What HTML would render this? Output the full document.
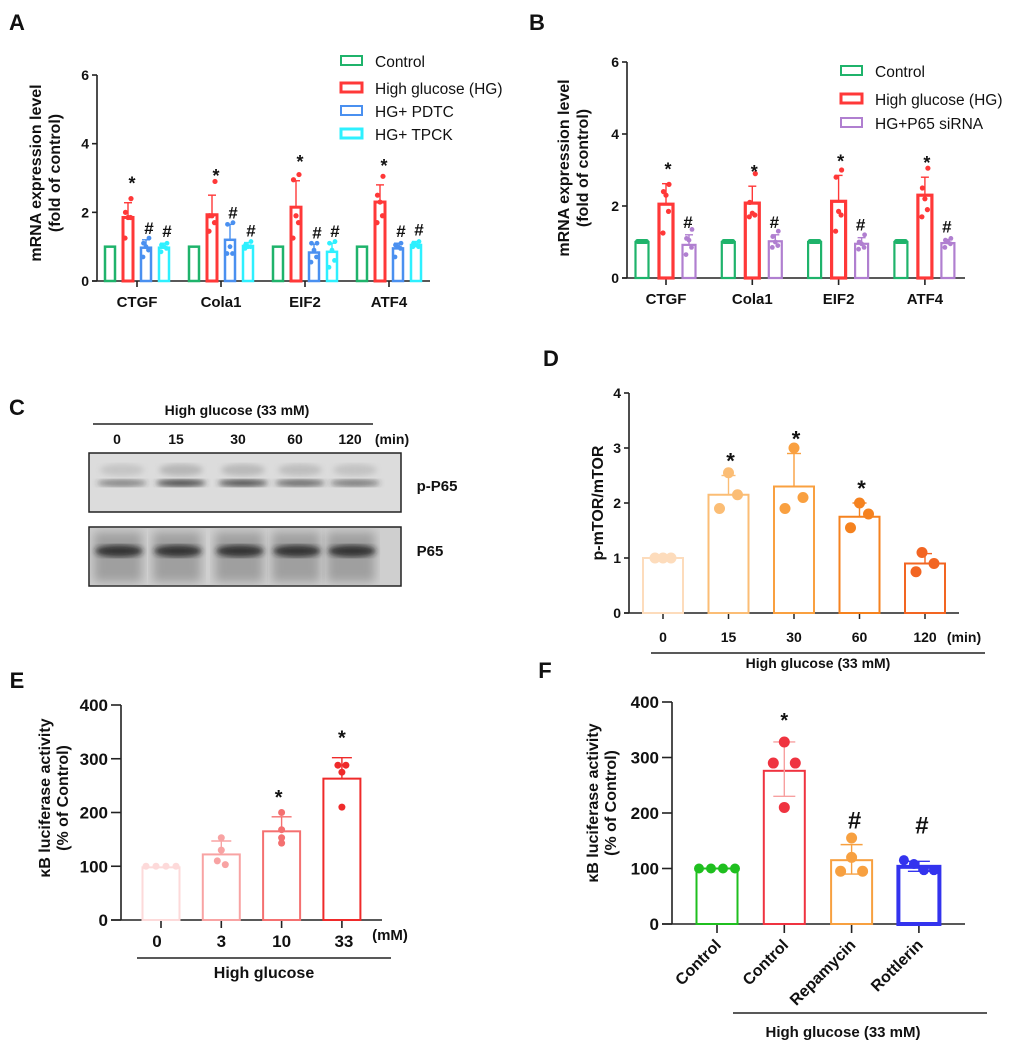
<!DOCTYPE html>
<html><head><meta charset="utf-8"><style>
body{margin:0;background:#fff;}
svg{display:block;font-family:"Liberation Sans",Arial,sans-serif;}
</style></head><body>
<svg id="fig" width="1020" height="1046" viewBox="0 0 1020 1046">
<defs>
<filter id="blur3"><feGaussianBlur stdDeviation="3"/></filter>
<filter id="blur5"><feGaussianBlur stdDeviation="5"/></filter>
</defs>
<g id="root"></g>
</svg>
<script>
// ---------- Panel A data ----------
const aCats=["CTGF","Cola1","EIF2","ATF4"];
const aControl=[1,1,1,1];
const aHG=[1.85,1.93,2.15,2.3];
const aHGErr=[2.28,2.5,2.92,2.8];
const aHGPts=[[2.4,2.0,1.85,1.85,1.25],[2.9,1.9,1.9,1.7,1.45],[3.1,2.95,1.9,1.7,1.25],[3.05,2.5,2.3,1.9,1.7]];
const aPDTC=[0.97,1.2,0.83,0.95];
const aPDTCErr=[1.2,1.65,1.07,1.1];
const aPDTCPts=[[1.25,1.1,1.0,0.9,0.7],[1.7,1.65,1.0,0.8,0.8],[1.1,1.1,0.9,0.7,0.55],[1.1,1.05,1.0,0.95,0.7]];
const aTPCK=[0.97,1.02,0.85,1.05];
const aTPCKErr=[1.1,1.12,1.1,1.15];
const aTPCKPts=[[1.1,1.05,1.0,0.95,0.85],[1.15,1.05,1.0,1.0,0.95],[1.15,1.1,0.9,0.6,0.4],[1.15,1.1,1.05,1.0,1.0]];
const abTicks=[0,2,4,6];
// ---------- Panel B data ----------
const bCats=["CTGF","Cola1","EIF2","ATF4"];
const bControl=[1,1,1,1];
const bHG=[2.05,2.08,2.13,2.3];
const bHGErr=[2.62,2.55,2.85,2.8];
const bHGPts=[[2.6,2.4,2.3,1.85,1.25],[2.9,2.1,1.8,1.75,1.7],[3.0,2.8,1.85,1.75,1.3],[3.05,2.5,2.2,1.9,1.7]];
const bSi=[0.92,1.02,0.95,0.97];
const bSiErr=[1.2,1.2,1.12,1.07];
const bSiPts=[[1.35,1.1,1.05,0.85,0.65],[1.3,1.15,1.0,0.9,0.85],[1.2,1.0,0.95,0.85,0.8],[1.1,1.05,1.0,0.95,0.85]];
// ---------- Panel D data ----------
const dCats=["0","15","30","60","120"];
const dVals=[1.0,2.15,2.3,1.75,0.9];
const dErr=[1.0,2.5,2.9,2.0,1.08];
const dPts=[[1,1,1],[2.55,2.15,1.9],[3.0,2.1,1.9],[2.0,1.8,1.55],[1.1,0.9,0.75]];
const dTicks=[0,1,2,3,4];
// ---------- Panel E data ----------
const eCats=["0","3","10","33"];
const eVals=[98,122,165,263];
const eErr=[98,147,192,302];
const ePts=[[100,100,100,100],[153,130,110,103],[200,168,153,143],[288,288,275,210]];
const efTicks=[0,100,200,300,400];
// ---------- Panel F data ----------
const fCats=["Control","Control","Repamycin","Rottlerin"];
const fVals=[100,276,115,103];
const fErrHi=[100,328,143,113];
const fErrLo=[100,230,90,95];
const fPts=[[100,100,100,100],[328,290,290,210],[155,120,95,95],[115,108,97,97]];

const NS="http://www.w3.org/2000/svg";
const root=document.getElementById('root');
function el(tag,attrs,parent,text){const e=document.createElementNS(NS,tag);for(const k in attrs)e.setAttribute(k,attrs[k]);if(text!==undefined)e.textContent=text;(parent||root).appendChild(e);return e;}
function txt(x,y,s,size,opts,parent){opts=opts||{};const t=el('text',Object.assign({x:x,y:y,'font-size':size,'text-anchor':opts.anchor||'middle','font-weight':opts.w||'bold',fill:'#111'},opts.extra||{}),parent,s);return t;}

function yAxis(g,x,y0,yScale,ticks,x1,fs,tickLen){
  el('line',{x1:x,y1:yScale(ticks[ticks.length-1]),x2:x,y2:y0,stroke:'#222','stroke-width':1.6},g);
  el('line',{x1:x-tickLen,y1:y0,x2:x1,y2:y0,stroke:'#222','stroke-width':1.6},g);
  ticks.forEach(t=>{const y=yScale(t);el('line',{x1:x-tickLen,y1:y,x2:x,y2:y,stroke:'#222','stroke-width':1.6},g);
    const l=txt(x-tickLen-3,y+fs*0.36,String(t),fs,{anchor:'end'},g);
    
    });
}
function bar(g,cx,w,y0,yv,color,sw,name){
  const r=el('rect',{x:cx-w/2,y:yv,width:w,height:y0-yv,fill:'#fff',stroke:color,'stroke-width':sw},g);
  
  
}
function errUp(g,cx,yv,ye,cw,color){
  el('line',{x1:cx,y1:yv,x2:cx,y2:ye,stroke:color,'stroke-width':1.4},g);
  el('line',{x1:cx-cw,y1:ye,x2:cx+cw,y2:ye,stroke:color,'stroke-width':1.4},g);
}
function dots(g,cx,pts,yScale,r,color,spread){
  pts.forEach((p,i)=>{const off=(i-(pts.length-1)/2)*spread*((i%2)?1:-0.6);
    const c=el('circle',{cx:cx+off,cy:yScale(p),r:r,fill:color},g);
    
    });
}

// ================= Panel A =================
(function(){
  const g=el('g',{});
  txt(17,30,'A',22,{},g);
  const x0=97,y0=281,yS=v=>y0-v*34.33;
  yAxis(g,x0,y0,yS,abTicks,430,14,5);
  const cols=['#1fb36b','#ff3838','#4a90f0','#2ef0ff'];
  aCats.forEach((c,i)=>{
    const gc=137+i*84;
    el('line',{x1:gc,y1:y0,x2:gc,y2:y0+6,stroke:'#222','stroke-width':1.6},g);
    const t=txt(gc,y0+26,c,15,{},g);
    const xs=[gc-27,gc-9,gc+9,gc+27];
    bar(g,xs[0],10,y0,yS(aControl[i]),cols[0],2.5,'bar-control');
    bar(g,xs[1],10,y0,yS(aHG[i]),cols[1],3,'bar-hg');
    errUp(g,xs[1],yS(aHG[i]),yS(aHGErr[i]),4,cols[1]);
    dots(g,xs[1],aHGPts[i],yS,2.6,cols[1],2.5);
    txt(xs[1]+4,yS(aHGErr[i])-13,'*',18,{},g);
    bar(g,xs[2],10,y0,yS(aPDTC[i]),cols[2],2.5,'bar-pdtc');
    errUp(g,xs[2],yS(aPDTC[i]),yS(aPDTCErr[i]),4,cols[2]);
    dots(g,xs[2],aPDTCPts[i],yS,2.4,cols[2],2.5);
    txt(xs[2]+3,yS(aPDTCErr[i])-6,'#',17,{},g);
    bar(g,xs[3],10,y0,yS(aTPCK[i]),cols[3],2.5,'bar-tpck');
    errUp(g,xs[3],yS(aTPCK[i]),yS(aTPCKErr[i]),4,cols[3]);
    dots(g,xs[3],aTPCKPts[i],yS,2.4,cols[3],2.5);
    txt(xs[3]+3,yS(aTPCKErr[i])-6,'#',17,{},g);
  });
  const yt=el('text',{transform:'translate(41,173) rotate(-90)','font-size':16,'font-weight':'bold','text-anchor':'middle',fill:'#111'},g,'mRNA expression level');
  
  el('text',{transform:'translate(60,173) rotate(-90)','font-size':16,'font-weight':'bold','text-anchor':'middle',fill:'#111'},g,'(fold of control)');
  const labs=['Control','High glucose (HG)','HG+ PDTC','HG+ TPCK'];const ly=[61,88,111,134];
  labs.forEach((l,i)=>{const lg=el('g',{},g);
    el('rect',{x:341,y:ly[i]-5,width:21,height:9,fill:'#fff',stroke:cols[i],'stroke-width':i==1||i==3?3:2},lg);
    txt(375,ly[i]+6,l,15.5,{anchor:'start',w:'normal'},lg);});
})();

// ================= Panel B =================
(function(){
  const g=el('g',{});
  txt(537,30,'B',22,{},g);
  const x0=627,y0=278,yS=v=>y0-v*36;
  yAxis(g,x0,y0,yS,abTicks,965,14,5);
  const cols=['#1fb36b','#ff3838','#b07fd0'];
  bCats.forEach((c,i)=>{
    const gc=666+i*86.3;
    el('line',{x1:gc,y1:y0,x2:gc,y2:y0+7,stroke:'#222','stroke-width':1.6},g);
    const t=txt(gc,y0+26,c,15,{},g);
    const xs=[gc-24,gc,gc+23];
    bar(g,xs[0],13,y0,yS(bControl[i]),cols[0],2.2,'bar-control');
    el('rect',{x:xs[0]-7,y:yS(bControl[i])-3,width:14,height:5,rx:2.5,fill:cols[0]},g);
    bar(g,xs[1],14,y0,yS(bHG[i]),cols[1],3.2,'bar-hg');
    errUp(g,xs[1],yS(bHG[i]),yS(bHGErr[i]),4,cols[1]);
    dots(g,xs[1],bHGPts[i],yS,2.6,cols[1],2.5);
    txt(xs[1]+2,yS(bHGErr[i])-8,'*',18,{},g);
    bar(g,xs[2],13,y0,yS(bSi[i]),cols[2],2.2,'bar-p65-sirna');
    errUp(g,xs[2],yS(bSi[i]),yS(bSiErr[i]),4,cols[2]);
    dots(g,xs[2],bSiPts[i],yS,2.4,cols[2],2.5);
    txt(xs[2]-1,yS(bSiErr[i])-7,'#',17,{},g);
  });
  el('text',{transform:'translate(569,168) rotate(-90)','font-size':16,'font-weight':'bold','text-anchor':'middle',fill:'#111'},g,'mRNA expression level');
  el('text',{transform:'translate(588,168) rotate(-90)','font-size':16,'font-weight':'bold','text-anchor':'middle',fill:'#111'},g,'(fold of control)');
  const labs=['Control','High glucose (HG)','HG+P65 siRNA'];const ly=[71,99,123];
  labs.forEach((l,i)=>{const lg=el('g',{},g);
    el('rect',{x:841,y:ly[i]-5,width:21,height:9,fill:'#fff',stroke:cols[i],'stroke-width':i==1?3:2},lg);
    txt(875,ly[i]+6,l,15.5,{anchor:'start',w:'normal'},lg);});
})();

// ================= Panel C (western blot) =================
(function(){
  const g=el('g',{});
  txt(17,415,'C',22,{},g);
  txt(237,415,'High glucose (33 mM)',14,{},g);
  el('line',{x1:93,y1:424,x2:373,y2:424,stroke:'#222','stroke-width':1.5},g);
  const lanes=['0','15','30','60','120'];const lx=[117,176,238,295,350];
  lanes.forEach((l,i)=>txt(lx[i],444,l,14,{},g));
  txt(392,444,'(min)',14,{},g);
  el('rect',{x:89,y:453,width:312,height:59,fill:'#dcdcdc',stroke:'#222','stroke-width':1.5},g);
  const bi=[0.55,0.9,0.85,0.7,0.6];
  lx.forEach((x,i)=>{
    el('ellipse',{cx:x+5,cy:483,rx:25,ry:3.5,fill:'#333','fill-opacity':bi[i],filter:'url(#blur3)'},g);
    el('ellipse',{cx:x+5,cy:470,rx:22,ry:6,fill:'#888','fill-opacity':bi[i]*0.5,filter:'url(#blur3)'},g);
  });
  txt(437,491,'p-P65',15,{},g);
  el('rect',{x:89,y:527,width:312,height:59,fill:'#cfcfcf',stroke:'#222','stroke-width':1.5},g);
  lx.forEach((x,i)=>{
    el('rect',{x:x-23,y:532,width:48,height:50,fill:'#8a8a8a','fill-opacity':0.7,filter:'url(#blur5)'},g);
    el('ellipse',{cx:x+2,cy:551,rx:24,ry:6,fill:'#222','fill-opacity':0.85,filter:'url(#blur3)'},g);
  });
  txt(430,556,'P65',15,{},g);
})();

// ================= Panel D =================
(function(){
  const g=el('g',{});
  txt(551,366,'D',22,{},g);
  const x0=629,y0=613,yS=v=>y0-v*55;
  yAxis(g,x0,y0,yS,dTicks,959,14,5);
  const cols=['#fddcbc','#fbbd75','#f9a040','#f5821f','#f26522'];
  dCats.forEach((c,i)=>{
    const cx=663+i*65.5;
    el('line',{x1:cx,y1:y0,x2:cx,y2:y0+6,stroke:'#222','stroke-width':1.5},g);
    const t=txt(cx,y0+29,c,14,{},g);
    bar(g,cx,40,y0,yS(dVals[i]),cols[i],2,'bar-'+c+'min');
    if(dErr[i]>dVals[i])errUp(g,cx,yS(dVals[i]),yS(dErr[i]),7,cols[i]);
    dPts[i].forEach((p,j)=>{const off=dVals[i]===1?(j-1)*8:[-1,1,-1][j]*9*(j==0?0:1);
      const cc=el('circle',{cx:cx+off+(i==4&&j==0?-3:0),cy:yS(p),r:5.5,fill:cols[i]},g);
      
      });
    if(i>=1&&i<=3)txt(cx+2,yS(dErr[i])-7,'*',22,{},g);
  });
  txt(964,642,'(min)',14,{},g);
  el('text',{transform:'translate(603,503) rotate(-90)','font-size':16,'font-weight':'bold','text-anchor':'middle',fill:'#111'},g,'p-mTOR/mTOR');
  el('line',{x1:651,y1:653,x2:985,y2:653,stroke:'#222','stroke-width':1.5},g);
  txt(818,668,'High glucose (33 mM)',14,{},g);
})();

// ================= Panel E =================
(function(){
  const g=el('g',{});
  txt(17,688,'E',22,{},g);
  const x0=121,y0=920,yS=v=>y0-v*0.5375;
  yAxis(g,x0,y0,yS,efTicks,382,17,10);
  const cols=['#fddada','#f8a3a3','#f47070','#ef2a2a'];
  eCats.forEach((c,i)=>{
    const cx=161+i*60.3;
    el('line',{x1:cx,y1:y0,x2:cx,y2:y0+8,stroke:'#222','stroke-width':1.6},g);
    const t=txt(cx-(i==0?4:0)+(i==3?2:0),y0+27,c,17,{},g);
    bar(g,cx,37,y0,yS(eVals[i]),cols[i],2,'bar-'+c+'mm');
    if(eErr[i]>eVals[i])errUp(g,cx,yS(eVals[i]),yS(eErr[i]),10,cols[i]);
    ePts[i].forEach((p,j)=>{const off=i==0?(j-1.5)*10:[0,0,-4,4][j]*(i==3&&j<2?1:0)+(i==3?[-1,1,0,0][j]*4:0)+(i==1&&j==3?4:0)+(i==1&&j==2?-4:0);
      const cc=el('circle',{cx:cx+off,cy:yS(p),r:3.5,fill:cols[i]},g);
      
      });
    if(i>=2)txt(cx-(i==2?3:0),yS(eErr[i])-13,'*',20,{},g);
  });
  txt(390,940,'(mM)',15,{},g);
  el('text',{transform:'translate(50,798) rotate(-90)','font-size':16,'font-weight':'bold','text-anchor':'middle',fill:'#111'},g,'κB luciferase activity');
  el('text',{transform:'translate(68,798) rotate(-90)','font-size':16,'font-weight':'bold','text-anchor':'middle',fill:'#111'},g,'(% of Control)');
  el('line',{x1:137,y1:958,x2:391,y2:958,stroke:'#222','stroke-width':1.5},g);
  txt(264,978,'High glucose',16,{},g);
})();

// ================= Panel F =================
(function(){
  const g=el('g',{});
  txt(545,678,'F',22,{},g);
  const x0=672,y0=924,yS=v=>y0-v*0.555;
  yAxis(g,x0,y0,yS,efTicks,965,17,10);
  const cols=['#1fbf1f','#ef3340','#f7a040','#3333ee'];
  const sw=[2,2,2,4];
  fCats.forEach((c,i)=>{
    const cx=717+i*67.3;
    el('line',{x1:cx,y1:y0,x2:cx,y2:y0+9,stroke:'#222','stroke-width':1.6},g);
    const t=el('text',{transform:'translate('+(cx+5)+','+(y0+22)+') rotate(-45)','font-size':16,'font-weight':'bold','text-anchor':'end',fill:'#111'},g,c);
    
    bar(g,cx,41,y0,yS(fVals[i]),cols[i],sw[i],'bar-'+c.toLowerCase());
    if(fErrHi[i]>fVals[i]){const ec=i==1?'#f7a0a0':cols[i];
      el('line',{x1:cx,y1:yS(fErrLo[i]),x2:cx,y2:yS(fErrHi[i]),stroke:ec,'stroke-width':1.4},g);
      el('line',{x1:cx-11,y1:yS(fErrHi[i]),x2:cx+11,y2:yS(fErrHi[i]),stroke:ec,'stroke-width':1.4},g);
      el('line',{x1:cx-11,y1:yS(fErrLo[i]),x2:cx+11,y2:yS(fErrLo[i]),stroke:ec,'stroke-width':1.4},g);}
    fPts[i].forEach((p,j)=>{const offs=[[-18,-6,6,18],[0,-11,11,0],[0,0,-11,11],[-15,-5,5,15]];
      const cc=el('circle',{cx:cx+offs[i][j],cy:yS(p),r:i==1||i==2?5.5:5,fill:cols[i]},g);
      
      });
    if(i==1)txt(cx,yS(fErrHi[i])-15,'*',20,{},g);
    if(i>=2)txt(cx+3,yS(fErrHi[i])-(i==2?16:28),'#',24,{},g);
  });
  el('text',{transform:'translate(598,803) rotate(-90)','font-size':16,'font-weight':'bold','text-anchor':'middle',fill:'#111'},g,'κB luciferase activity');
  el('text',{transform:'translate(616,803) rotate(-90)','font-size':16,'font-weight':'bold','text-anchor':'middle',fill:'#111'},g,'(% of Control)');
  el('line',{x1:733,y1:1013,x2:987,y2:1013,stroke:'#222','stroke-width':1.5},g);
  txt(843,1037,'High glucose (33 mM)',15,{},g);
})();
</script>
</body></html>
